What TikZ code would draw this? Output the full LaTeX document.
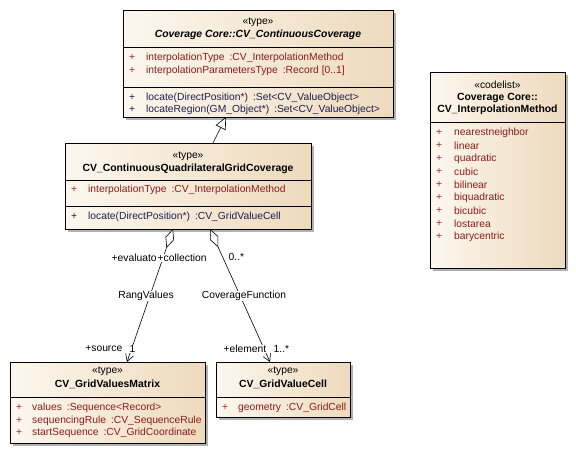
\documentclass[tikz,border=0pt]{standalone}
\usepackage{fontspec}
\setmainfont{Liberation Sans}
\usetikzlibrary{arrows.meta,shadows}

\definecolor{umlleft}{HTML}{FCF7EE}
\definecolor{umlright}{HTML}{EEDABD}
\definecolor{attrcol}{HTML}{8A1C1C}
\definecolor{pluscol}{HTML}{B02020}
\definecolor{opcol}{HTML}{1E1E50}

\tikzset{
  classbox/.style={draw=black, line width=0.9pt, left color=umlleft, right color=umlright,
    anchor=north west, inner sep=0pt,
    drop shadow={shadow xshift=3pt, shadow yshift=-3pt, fill=black!30, opacity=1}},
  divider/.style={draw=black, line width=0.8pt},
  txt/.style={inner sep=0pt, font=\fontsize{10.3}{12}\selectfont},
  stereo/.style={txt},
  cname/.style={txt, font=\fontsize{10.4}{12}\selectfont\bfseries},
  plus/.style={txt, anchor=west, text=pluscol},
  attr/.style={txt, anchor=west, text=attrcol},
  oper/.style={txt, anchor=west, text=opcol},
  role/.style={txt, fill=white, inner sep=0.5pt},
  link/.style={draw=black, line width=0.6pt},
}

\begin{document}
\begin{tikzpicture}[x=1pt,y=-1pt]
    \useasboundingbox (0,0) rectangle (576,454);
    % boxes
    \node[classbox, minimum width=270pt, minimum height=107pt] (cc) at (123,10) {};
    \node[classbox, minimum width=246pt, minimum height=86pt] (qgc) at (65,143) {};
    \node[classbox, minimum width=135pt, minimum height=196pt] (im) at (430,72) {};
    \node[classbox, minimum width=195pt, minimum height=81pt] (gvm) at (10,362) {};
    \node[classbox, minimum width=134pt, minimum height=55pt] (gvc) at (216,362) {};

    % CV_ContinuousCoverage
    \node[stereo] (cc-st) at (258,22) {«type»};
    \node[cname, font=\fontsize{10.4}{12}\selectfont\bfseries\itshape] (cc-nm) at (258,35) {Coverage Core::CV\_ContinuousCoverage};
    \draw[divider] (123,47) -- (393,47);
    \node[plus] at (129,58) {+};
    \node[attr] (cc-a1) at (146,58) {interpolationType\hspace{5pt}:CV\_InterpolationMethod};
    \node[plus] at (129,71) {+};
    \node[attr] (cc-a2) at (146,71) {interpolationParametersType\hspace{5pt}:Record [0..1]};
    \draw[divider] (123,87) -- (393,87);
    \node[oper] at (129,97.5) {+};
    \node[oper] (cc-o1) at (146,97.5) {locate(DirectPosition*)\hspace{5pt}:Set<CV\_ValueObject>};
    \node[oper] at (129,110) {+};
    \node[oper] (cc-o2) at (146,110) {locateRegion(GM\_Object*)\hspace{5pt}:Set<CV\_ValueObject>};

    % CV_ContinuousQuadrilateralGridCoverage
    \node[stereo] (qgc-st) at (188,156) {«type»};
    \node[cname] (qgc-nm) at (188,169) {CV\_ContinuousQuadrilateralGridCoverage};
    \draw[divider] (65,180) -- (311,180);
    \node[plus] at (71,190) {+};
    \node[attr] (qgc-a1) at (88,190) {interpolationType\hspace{5pt}:CV\_InterpolationMethod};
    \draw[divider] (65,206) -- (311,206);
    \node[oper] at (71,217) {+};
    \node[oper] (qgc-o1) at (88,217) {locate(DirectPosition*)\hspace{5pt}:CV\_GridValueCell};

    % CV_InterpolationMethod
    \node[stereo] (im-st) at (497.5,85) {«codelist»};
    \node[cname] (im-pk) at (497.5,98) {Coverage Core::};
    \node[cname] (im-nm) at (497.5,110) {CV\_InterpolationMethod};
    \draw[divider] (430,122) -- (565,122);
    \foreach \lit [count=\i from 0] in {nearestneighbor,linear,quadratic,cubic,bilinear,biquadratic,bicubic,lostarea,barycentric}{
        \node[plus] at (436,133+13*\i) {+};
        \node[attr] (im-l\i) at (454,133+13*\i) {\lit};
    }

    % CV_GridValuesMatrix
    \node[stereo] (gvm-st) at (107.5,371) {«type»};
    \node[cname] (gvm-nm) at (107.5,384) {CV\_GridValuesMatrix};
    \draw[divider] (10,397) -- (205,397);
    \node[plus] at (16,408) {+};
    \node[attr] (gvm-a1) at (32,408) {values\hspace{5pt}:Sequence<Record>};
    \node[plus] at (16,420.5) {+};
    \node[attr] (gvm-a2) at (32,420.5) {sequencingRule\hspace{5pt}:CV\_SequenceRule};
    \node[plus] at (16,433) {+};
    \node[attr] (gvm-a3) at (32,433) {startSequence\hspace{5pt}:CV\_GridCoordinate};

    % CV_GridValueCell
    \node[stereo] (gvc-st) at (283,371) {«type»};
    \node[cname] (gvc-nm) at (283,384) {CV\_GridValueCell};
    \draw[divider] (216,397) -- (350,397);
    \node[plus] at (222,408) {+};
    \node[attr] (gvc-a1) at (238,408) {geometry\hspace{5pt}:CV\_GridCell};

    % connector ends
    \coordinate (gen-s) at (213,143);
    \coordinate (gen-t) at (226,117);
    \coordinate (rv-s) at (173,229);
    \coordinate (rv-t) at (127,362);
    \coordinate (cf-s) at (210,229);
    \coordinate (cf-t) at (270,362);

    % connectors
    \draw[link, -{Triangle[open, length=12pt, width=11pt, fill=white]}] (gen-s) -- (gen-t);
    \draw[link, {Diamond[open, length=20pt, width=9pt, fill=white]}-{Straight Barb[length=7pt, width=8pt]}] (rv-s) -- (rv-t);
    \draw[link, {Diamond[open, length=20pt, width=9pt, fill=white]}-{Straight Barb[length=7pt, width=8pt]}] (cf-s) -- (cf-t);

    % association labels
    \node[role, anchor=west] (rv-ev) at (111,258) {+evaluator};
    \node[role, anchor=west] (rv-co) at (157,258) {+collection};
    \node[role, anchor=west] (cf-mu) at (228,257) {0..*};
    \node[role] (rv-nm) at (146,296) {RangValues};
    \node[role] (cf-nm) at (244,296) {CoverageFunction};
    \node[role, anchor=east] (rv-so) at (123,349) {+source};
    \node[role, anchor=west] (rv-mu) at (129,349) {1};
    \node[role, anchor=east] (cf-el) at (267,349) {+element};
    \node[role, anchor=west] (cf-m2) at (273,349) {1..*};
\end{tikzpicture}
\end{document}
